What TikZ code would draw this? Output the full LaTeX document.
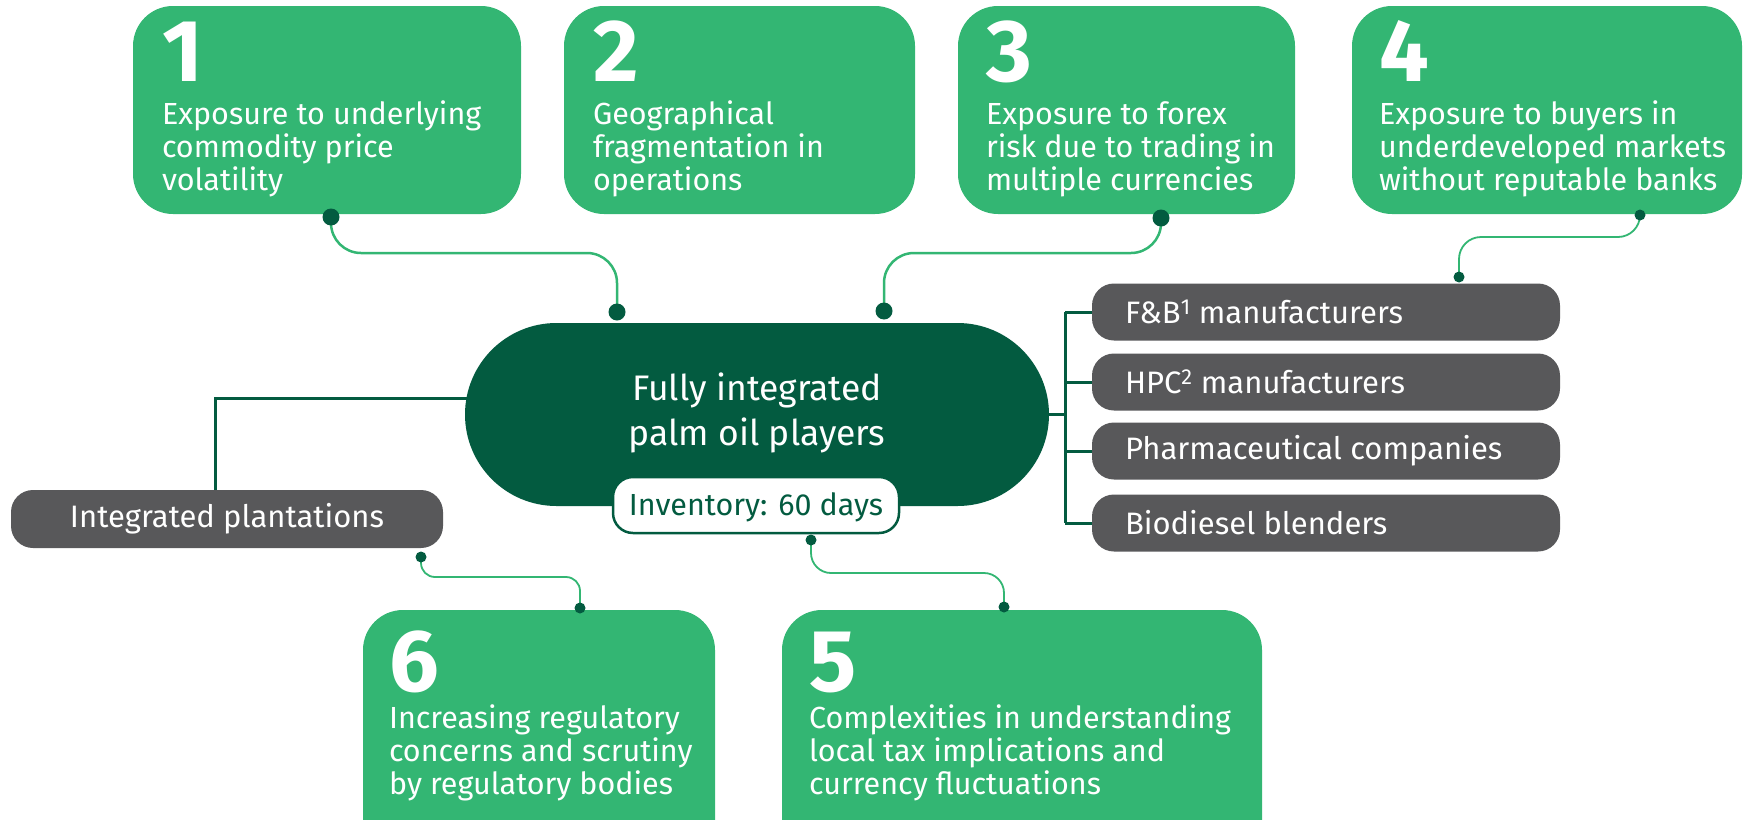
\documentclass[tikz,border=0pt]{standalone}
\usepackage{fontspec}
\setmainfont{Fira Sans}
\usetikzlibrary{calc,backgrounds}
\definecolor{lgreen}{HTML}{33B673}
\definecolor{dgreen}{HTML}{035B40}
\definecolor{dgray}{HTML}{58585A}
\tikzset{
  riskbox/.style={fill=lgreen, draw=none, rounded corners=40pt, inner sep=0pt},
  listbox/.style={fill=dgray, draw=none, rounded corners=22pt, inner sep=0pt, minimum width=468pt, minimum height=57pt},
  numtext/.style={anchor=base west, inner sep=0pt, text=white, font=\fontsize{88}{88}\selectfont\bfseries},
  desctext/.style={anchor=base west, inner sep=0pt, text=white, align=left, font=\fontsize{30.5}{33}\selectfont},
  listtext/.style={anchor=west, inner sep=0pt, text=white, font=\fontsize{31}{33}\selectfont},
  bigdot/.style={circle, fill=dgreen, inner sep=0pt, minimum size=17pt},
  smalldot/.style={circle, fill=dgreen, inner sep=0pt, minimum size=11pt},
  conn/.style={draw=lgreen, line width=2.5pt},
  thinconn/.style={draw=lgreen, line width=1.8pt},
  bracket/.style={draw=dgreen, line width=3pt},
}
\begin{document}
\begin{tikzpicture}[x=1pt,y=-1pt]
\useasboundingbox (0,0) rectangle (1744,819);

% risk boxes
\node[riskbox, minimum width=388pt, minimum height=208pt] (b1) at (327,110) {};
\node[riskbox, minimum width=351pt, minimum height=208pt] (b2) at (739.5,110) {};
\node[riskbox, minimum width=337pt, minimum height=208pt] (b3) at (1126.5,110) {};
\node[riskbox, minimum width=390pt, minimum height=208pt] (b4) at (1547,110) {};
\node[riskbox, minimum width=352pt, minimum height=250pt] (b6) at (539,735) {};
\node[riskbox, minimum width=480pt, minimum height=250pt] (b5) at (1022,735) {};

\node[numtext] (n1) at ($(b1.north west)+(29,76)$) {1};
\node[desctext] (t1) at ($(b1.north west)+(29,185)$) {Exposure to underlying\\commodity price\\volatility};
\node[numtext] (n2) at ($(b2.north west)+(29,76)$) {2};
\node[desctext] (t2) at ($(b2.north west)+(29,185)$) {Geographical\\fragmentation in\\operations};
\node[numtext] (n3) at ($(b3.north west)+(28,76)$) {3};
\node[desctext] (t3) at ($(b3.north west)+(28,185)$) {Exposure to forex\\risk due to trading in\\multiple currencies};
\node[numtext] (n4) at ($(b4.north west)+(27,76)$) {4};
\node[desctext] (t4) at ($(b4.north west)+(27,185)$) {Exposure to buyers in\\underdeveloped markets\\without reputable banks};
\node[numtext] (n6) at ($(b6.north west)+(26,82)$) {6};
\node[desctext] (t6) at ($(b6.north west)+(26,185)$) {Increasing regulatory\\concerns and scrutiny\\by regulatory bodies};
\node[numtext] (n5) at ($(b5.north west)+(27,82)$) {5};
\node[desctext] (t5) at ($(b5.north west)+(27,185)$) {Complexities in understanding\\local tax implications and\\currency fluctuations};

% central node
\node[fill=dgreen, rounded corners=91.5pt, minimum width=584pt, minimum height=183pt, inner sep=0pt] (c) at (757,414.5) {};
\node[anchor=base, inner sep=0pt, text=white, align=center, font=\fontsize{35.5}{45}\selectfont] (ct) at (757,445) {Fully integrated\\palm oil players};
\node[fill=white, draw=dgreen, line width=2.5pt, rounded corners=20pt, minimum width=286pt, minimum height=56pt, inner sep=0pt] (inv) at (756,505) {};
\node[anchor=base, inner sep=0pt, text=dgreen, font=\fontsize{30.5}{33}\selectfont] (invt) at (756,515) {Inventory: 60 days};

% list boxes
\node[listbox] (l1) at (1326,312) {};
\node[listbox] (l2) at (1326,382) {};
\node[listbox] (l3) at (1326,451) {};
\node[listbox] (l4) at (1326,523) {};
\node[listtext] (lt1) at ($(l1.west)+(33,0)$) {F\&B\textsuperscript{1} manufacturers};
\node[listtext] (lt2) at ($(l2.west)+(33,0)$) {HPC\textsuperscript{2} manufacturers};
\node[listtext] (lt3) at ($(l3.west)+(33,0)$) {Pharmaceutical companies};
\node[listtext] (lt4) at ($(l4.west)+(33,0)$) {Biodiesel blenders};

% plantations
\node[fill=dgray, rounded corners=22pt, minimum width=432pt, minimum height=58pt, inner sep=0pt] (p) at (227,519) {};
\node[text=white, inner sep=0pt, font=\fontsize{31}{33}\selectfont] (pt) at (p.center) {Integrated plantations};

% dots
\node[bigdot] (d1a) at (331,217) {};
\node[bigdot] (d1b) at (617,312) {};
\node[bigdot] (d3a) at (1161,218) {};
\node[bigdot] (d3b) at (884,311) {};
\node[smalldot] (d4a) at (1640,215) {};
\node[smalldot] (d4b) at (1459,277) {};
\node[smalldot] (d6a) at (421,557) {};
\node[smalldot] (d6b) at (580,608) {};
\node[smalldot] (d5a) at (811,540) {};
\node[smalldot] (d5b) at (1004,607) {};
\coordinate (bx) at (1065,414.5);
\coordinate (lx) at (215,398);

\begin{pgfonlayer}{background}
\draw[conn, rounded corners=30pt] (d1a.center) -- ++(0,36) -| (d1b.center);
\draw[conn, rounded corners=30pt] (d3a.center) -- ++(0,35) -| (d3b.center);
\draw[thinconn, rounded corners=22pt] (d4a.center) -- ++(0,22) -| (d4b.center);
\draw[thinconn, rounded corners=14pt] (d6a.center) -- ++(0,20) -| (d6b.center);
\draw[thinconn, rounded corners=20pt] (d5a.center) -- ++(0,33) -| (d5b.center);
\draw[bracket] (c.east) -- (bx);
\draw[bracket] (bx |- l1.west) -- (bx |- l4.west);
\draw[bracket] (bx |- l1.west) -- (l1.west);
\draw[bracket] (bx |- l2.west) -- (l2.west);
\draw[bracket] (bx |- l3.west) -- (l3.west);
\draw[bracket] (bx |- l4.west) -- (l4.west);
\draw[bracket] ($(c.west)+(4,-16.5)$) -- (lx) -- (lx |- p.north);
\end{pgfonlayer}
\end{tikzpicture}
\end{document}
